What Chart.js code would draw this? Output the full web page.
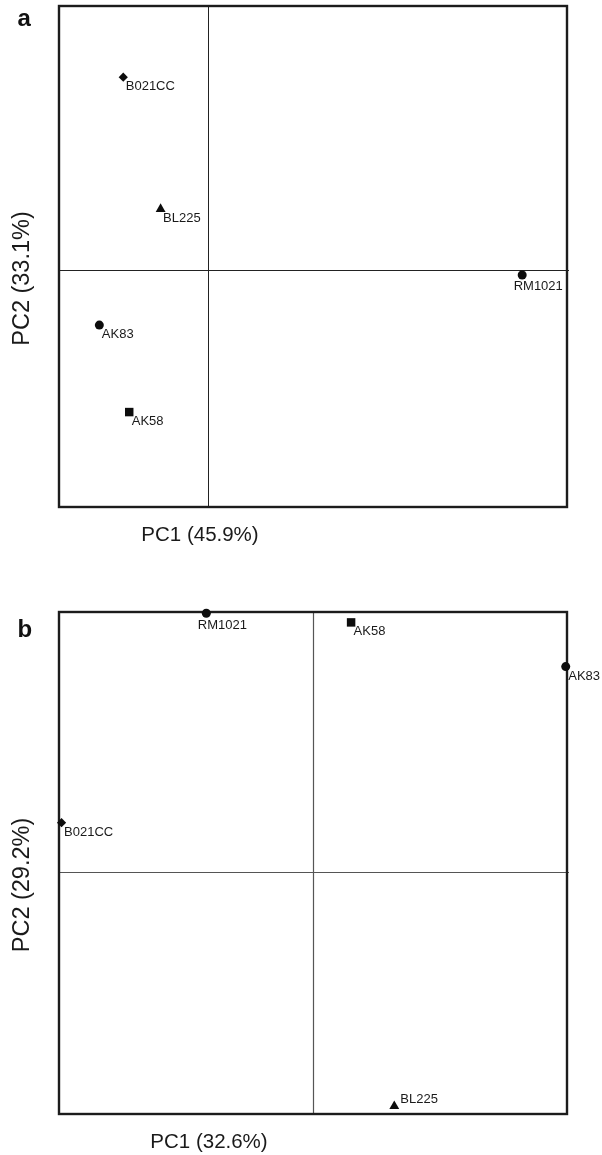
<!DOCTYPE html>
<html><head><meta charset="utf-8">
<script src="https://cdn.jsdelivr.net/npm/chart.js@4.4.1/dist/chart.umd.min.js"></script>
<style>
html,body{margin:0;padding:0;background:#fff;}
#wrap{position:relative;width:602px;height:1155px;}
.panel{position:absolute;left:0;width:602px;}
</style></head><body>
<div id="wrap">
<div class="panel" style="top:0;height:578px"><canvas id="ca" width="602" height="578"></canvas></div>
<div class="panel" style="top:578px;height:577px"><canvas id="cb" width="602" height="577"></canvas></div>
</div>
<script>
// ---- Panel a data ----
const namesA = ['B021CC', 'BL225', 'AK83', 'AK58', 'RM1021'];
const pc1A = [-0.57, -0.32, -0.73, -0.53, 2.10];
const pc2A = [0.73, 0.23, -0.21, -0.54, -0.02];
const stylesA = ['rectRot', 'triangle', 'circle', 'rect', 'circle'];
const labelPosA = ['br', 'br', 'br', 'br', 'b'];
const xTitleA = 'PC1 (45.9%)';
const yTitleA = 'PC2 (33.1%)';

// ---- Panel b data ----
const namesB = ['RM1021', 'AK58', 'AK83', 'B021CC', 'BL225'];
const pc1B = [-0.42, 0.15, 0.995, -0.99, 0.32];
const pc2B = [0.995, 0.96, 0.79, 0.19, -0.90];
const stylesB = ['circle', 'rect', 'circle', 'rectRot', 'triangle'];
const labelPosB = ['b', 'br', 'br', 'br', 'tr'];
const xTitleB = 'PC1 (32.6%)';
const yTitleB = 'PC2 (29.2%)';

const FONT = '"Liberation Sans", Arial, Helvetica, sans-serif';
const radiusFor = s => ({circle: 4.5, rect: 6, rectRot: 4.6, triangle: 5.7})[s];

const pcaPlugin = {
  id: 'pca',
  beforeDatasetsDraw(chart, args, o) {
    const {ctx, chartArea: a, scales: {x, y}} = chart;
    ctx.save();
    ctx.strokeStyle = o.crossColor;
    ctx.lineWidth = o.crossWidth;
    const x0 = Math.round(x.getPixelForValue(0)) + 0.5;
    const y0 = Math.round(y.getPixelForValue(0)) + 0.5;
    ctx.beginPath();
    ctx.moveTo(x0, a.top); ctx.lineTo(x0, a.bottom);
    ctx.moveTo(a.left, y0); ctx.lineTo(a.right + 2, y0);
    ctx.stroke();
    ctx.strokeStyle = '#1c1c1c';
    ctx.lineWidth = 2.4;
    ctx.strokeRect(a.left, a.top, a.right - a.left, a.bottom - a.top);
    ctx.restore();
  },
  afterDatasetsDraw(chart, args, o) {
    const {ctx, chartArea: a} = chart;
    const meta = chart.getDatasetMeta(0);
    ctx.save();
    ctx.fillStyle = '#1a1a1a';
    ctx.font = '13px ' + FONT;
    ctx.textBaseline = 'alphabetic';
    ctx.textAlign = 'left';
    meta.data.forEach((el, i) => {
      const pos = o.labelPos[i];
      let tx, ty;
      if (pos === 'b') { tx = el.x - 8.5; ty = el.y + 15.5; }
      else if (pos === 'tr') { tx = el.x + 6; ty = el.y - 3.5; }
      else { tx = el.x + 2.5; ty = el.y + 13; }
      ctx.fillText(o.names[i], tx, ty);
    });
    // axis titles
    ctx.fillStyle = '#1a1a1a';
    ctx.textAlign = 'center';
    ctx.textBaseline = 'middle';
    ctx.font = '20.5px ' + FONT;
    ctx.fillText(o.xTitle, a.left + o.xTitleDx, a.bottom + 28.5);
    ctx.save();
    ctx.translate(23, (a.top + a.bottom) / 2 + 22);
    ctx.rotate(-Math.PI / 2);
    ctx.font = '23.5px ' + FONT;
    ctx.fillText(o.yTitle, 0, 0);
    ctx.restore();
    // panel letter
    ctx.textAlign = 'left';
    ctx.textBaseline = 'alphabetic';
    ctx.font = 'bold 24px ' + FONT;
    ctx.fillStyle = '#111';
    ctx.fillText(o.letter, 17.5, o.letterY);
    ctx.restore();
  }
};

function makeChart(id, pc1, pc2, styles, names, labelPos, xr, yr, pad, extra) {
  return new Chart(document.getElementById(id), {
    type: 'scatter',
    data: {
      datasets: [{
        data: pc1.map((v, i) => ({x: v, y: pc2[i]})),
        pointStyle: styles,
        pointRadius: styles.map(radiusFor),
        pointBackgroundColor: '#0d0d0d',
        pointBorderColor: '#0d0d0d',
        pointBorderWidth: 0,
        clip: false
      }]
    },
    options: {
      responsive: false,
      devicePixelRatio: 1,
      animation: false,
      events: [],
      layout: {padding: pad},
      plugins: {
        legend: {display: false},
        tooltip: {enabled: false},
        pca: Object.assign({names, labelPos}, extra)
      },
      scales: {
        x: {type: 'linear', min: xr[0], max: xr[1], display: false},
        y: {type: 'linear', min: yr[0], max: yr[1], display: false}
      }
    },
    plugins: [pcaPlugin]
  });
}

makeChart('ca', pc1A, pc2A, stylesA, namesA, labelPosA, [-1, 2.4], [-0.9, 1.0],
  {left: 59, right: 35, top: 5, bottom: 71},
  {xTitle: xTitleA, yTitle: yTitleA, xTitleDx: 141, letter: 'a', letterY: 26, crossColor: '#222', crossWidth: 1});

makeChart('cb', pc1B, pc2B, stylesB, namesB, labelPosB, [-1, 1], [-0.93, 1.0],
  {left: 59, right: 35, top: 34, bottom: 41},
  {xTitle: xTitleB, yTitle: yTitleB, xTitleDx: 150, letter: 'b', letterY: 59.3, crossColor: '#555', crossWidth: 1.2});
</script>
</body></html>
